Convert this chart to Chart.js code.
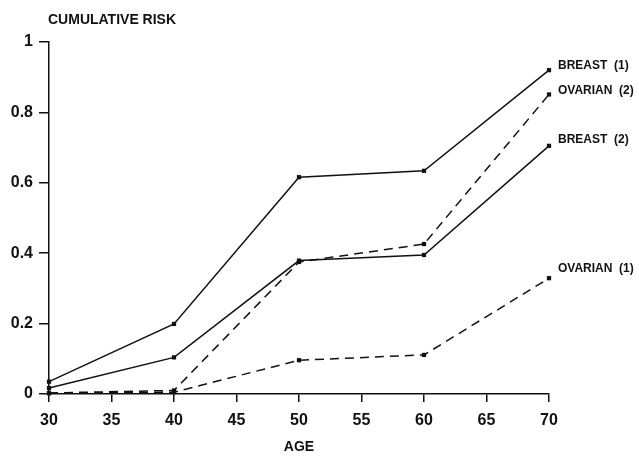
<!DOCTYPE html>
<html>
<head>
<meta charset="utf-8">
<script src="https://cdn.jsdelivr.net/npm/chart.js@4/dist/chart.umd.min.js"></script>
<style>
  html, body { margin: 0; padding: 0; background: #fff; }
  #wrap { width: 639px; height: 457px; }
</style>
</head>
<body>
<div id="wrap"><canvas id="riskChart" width="639" height="457"></canvas></div>
<script>
const ages = [30, 40, 50, 60, 70];
const breast1 = [0.035, 0.199, 0.616, 0.634, 0.920];
const ovarian2 = [0.003, 0.010, 0.375, 0.426, 0.851];
const breast2 = [0.017, 0.104, 0.379, 0.395, 0.705];
const ovarian1 = [0.002, 0.005, 0.096, 0.111, 0.329];
const seriesNames = ['BREAST  (1)', 'OVARIAN  (2)', 'BREAST  (2)', 'OVARIAN  (1)'];
const xTicks = [30, 35, 40, 45, 50, 55, 60, 65, 70];
const yTicks = [0, 0.2, 0.4, 0.6, 0.8, 1];
const yTickLabels = ['0', '0.2', '0.4', '0.6', '0.8', '1'];

const FONT = '"Liberation Sans", Arial, sans-serif';
const INK = '#111';

// little vertical nudges so the end labels sit like the original
const labelDy = [-4, -4, -6, -10];

const endLabels = {
  id: 'endLabels',
  afterDatasetsDraw(chart) {
    const ctx = chart.ctx;
    ctx.save();
    ctx.fillStyle = INK;
    ctx.font = 'bold 12px ' + FONT;
    ctx.textBaseline = 'middle';
    ctx.textAlign = 'left';
    chart.data.datasets.forEach((ds, i) => {
      const pts = chart.getDatasetMeta(i).data;
      const last = pts[pts.length - 1];
      ctx.fillText(ds.label, last.x + 9, last.y + labelDy[i]);
    });
    // y axis caption
    ctx.font = 'bold 14px ' + FONT;
    ctx.fillText('CUMULATIVE RISK', 48, 20);
    ctx.restore();
  }
};

function line(label, data, dashed) {
  return {
    label: label,
    data: ages.map((a, i) => ({ x: a, y: data[i] })),
    borderColor: INK,
    backgroundColor: INK,
    borderWidth: 1.5,
    borderDash: dashed ? [9, 6] : [],
    pointStyle: 'rect',
    pointRadius: 3,
    pointBorderWidth: 0,
    tension: 0,
    clip: false
  };
}

new Chart(document.getElementById('riskChart').getContext('2d'), {
  type: 'line',
  data: {
    datasets: [
      line(seriesNames[0], breast1, false),
      line(seriesNames[1], ovarian2, true),
      line(seriesNames[2], breast2, false),
      line(seriesNames[3], ovarian1, true)
    ]
  },
  options: {
    responsive: false,
    animation: false,
    layout: { padding: { top: 42, right: 90, left: 0, bottom: 0 } },
    plugins: { legend: { display: false }, tooltip: { enabled: false } },
    scales: {
      x: {
        type: 'linear',
        min: 30,
        max: 70,
        afterBuildTicks: s => { s.ticks = xTicks.map(v => ({ value: v })); },
        afterFit: s => { s.height = 63; },
        grid: { drawOnChartArea: false, drawTicks: true, tickLength: 8, color: INK, lineWidth: 1.5 },
        border: { color: INK, width: 1.5 },
        ticks: { color: INK, padding: 9, font: { family: FONT, size: 16, weight: 'bold' } },
        title: { display: true, text: 'AGE', color: INK, padding: { top: 0, bottom: 1 }, font: { family: FONT, size: 14, weight: 'bold' } }
      },
      y: {
        type: 'linear',
        min: 0,
        max: 1,
        afterBuildTicks: s => { s.ticks = yTicks.map(v => ({ value: v })); },
        afterFit: s => { s.width = 49; },
        grid: { drawOnChartArea: false, drawTicks: true, tickLength: 10, color: INK, lineWidth: 1.5 },
        border: { color: INK, width: 1.5 },
        ticks: {
          color: INK,
          padding: 6,
          font: { family: FONT, size: 16, weight: 'bold' },
          callback: v => yTickLabels[yTicks.indexOf(v)]
        }
      }
    }
  },
  plugins: [endLabels]
});
</script>
</body>
</html>
